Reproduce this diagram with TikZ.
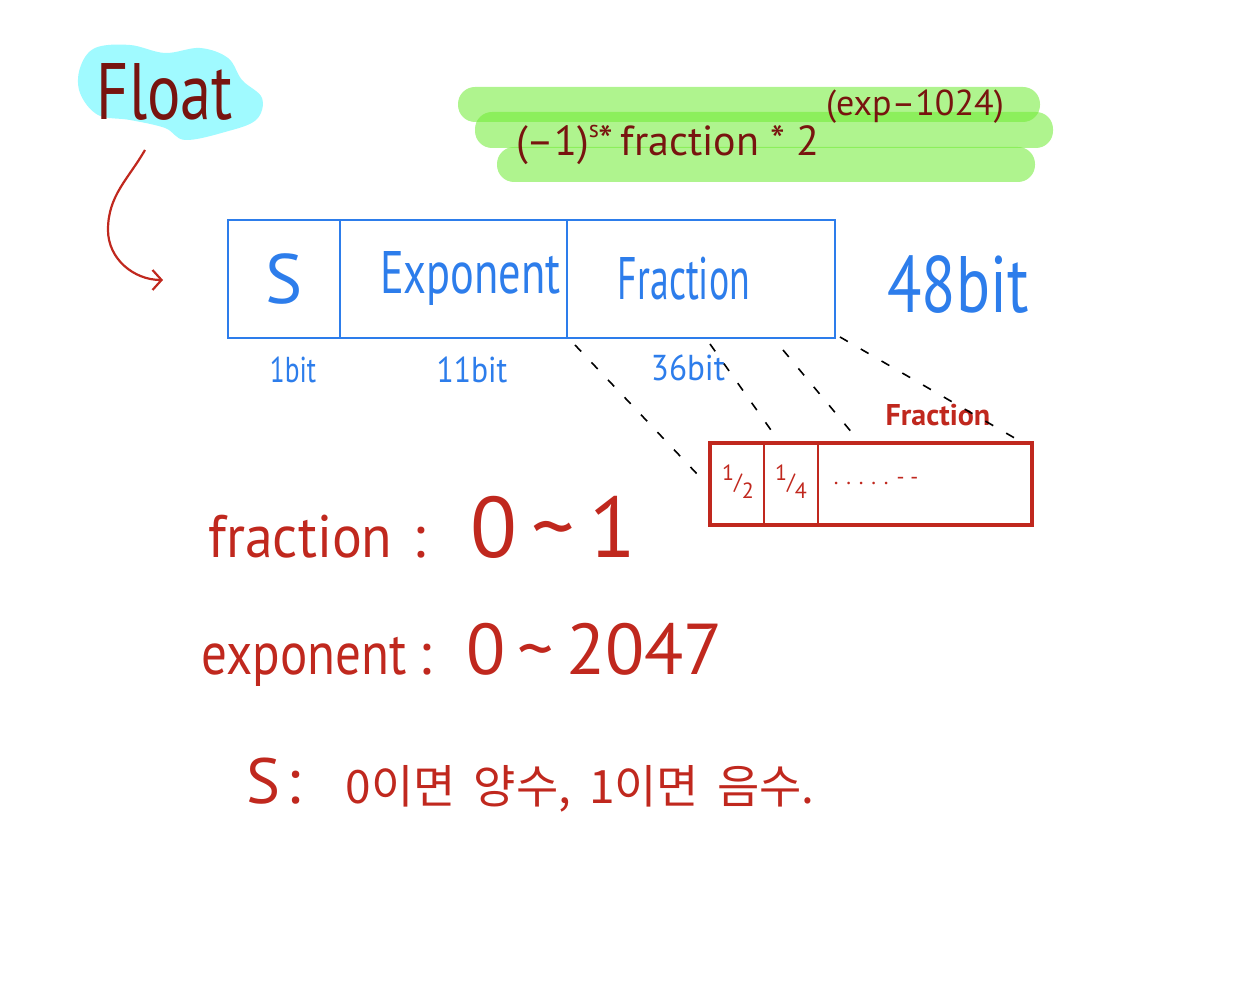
\documentclass[tikz,border=0pt]{standalone}
\usepackage{fontspec}
\setmainfont{PT Sans}
\newfontfamily\kofont{Noto Sans CJK KR}
\usetikzlibrary{arrows.meta,positioning,calc}
\definecolor{inkred}{RGB}{192,40,30}
\definecolor{inkdark}{RGB}{120,20,15}
\definecolor{inkblue}{RGB}{45,125,235}
\definecolor{hlgreen}{RGB}{110,235,50}
\definecolor{hlcyan}{RGB}{160,250,255}
\newcommand{\fs}[1]{\fontsize{#1}{#1}\selectfont}
\newcommand{\sq}[2]{\scalebox{#1}[1]{#2}}
\tikzset{
  hl/.style={fill=hlgreen, fill opacity=0.55, rounded corners=17pt},
  bitcell/.style={draw=inkblue, line width=2.5pt, minimum height=118pt, inner sep=0pt, outer sep=0pt, text=inkblue, font=\fs{60}},
  bitlabel/.style={text=inkblue, font=\fs{36}},
  link/.style={draw=black, line width=1.6pt, dash pattern=on 9pt off 15pt},
  fracbox/.style={draw=inkred, line width=4.5pt, minimum width=322pt, minimum height=82pt, inner sep=0pt, outer sep=0pt},
  fracdiv/.style={draw=inkred, line width=1.6pt},
  redtext/.style={text=inkred, anchor=west},
  arrowink/.style={draw=inkred, line width=2.2pt, -{Straight Barb[length=9pt,width=20pt]}}
}
\begin{document}
\begin{tikzpicture}[x=1pt,y=1pt]
  \useasboundingbox (0,0) rectangle (1260,1000);
  \fill[hlcyan] plot[smooth cycle, tension=0.6] coordinates {(80,932) (95,952) (130,955) (165,947) (200,952) (228,942) (242,920) (262,902) (256,880) (225,868) (185,860) (165,872) (130,880) (98,885) (80,907)};
  \node[text=inkdark, font=\fs{80}] (float) at (165,908) {\sq{0.78}{Float}};
  \fill[hl] (458,913) rectangle (1040,878);
  \fill[hl] (475,888) rectangle (1053,852);
  \fill[hl] (497,853) rectangle (1035,818);
  \node[text=inkdark, font=\fs{42}, anchor=west, inner sep=0pt] (formula) at (516,855) {(–1)\raisebox{18pt}{\fs{24}s}*\,fraction * 2};
  \node[text=inkdark, font=\fs{36}, anchor=west, inner sep=0pt] (formulaexp) at (826,893) {(exp–1024)};
  \draw[arrowink] (145,850) to[out=-120,in=90] (108,770) to[out=-90,in=180] (163,720);
  \node[bitcell, minimum width=112pt] (sbit) at (284,721) {\fs{70}S};
  \node[bitcell, minimum width=227pt, right=0pt of sbit] (expbit) {\hspace{34pt}\sq{0.74}{Exponent}};
  \node[bitcell, minimum width=268pt, right=0pt of expbit] (fracbit) {\sq{0.63}{Fraction}\hspace{34pt}\null};
  \node[text=inkblue, font=\fs{80}] (size) at (958,715) {\sq{0.79}{48bit}};
  \node[bitlabel] (sbitlbl) at (293,630) {\sq{0.76}{1bit}};
  \node[bitlabel] (expbitlbl) at (472,630) {\sq{0.88}{11bit}};
  \node[bitlabel] (fracbitlbl) at (688,632) {\sq{0.92}{36bit}};
  \node[fracbox] (fracbox) at (871,516) {};
  \node[text=inkred, font=\bfseries\fs{30}] (fracname) at (938,585) {Fraction};
  \draw[fracdiv] ($(fracbox.north west)+(54,0)$) -- ($(fracbox.south west)+(54,0)$);
  \draw[fracdiv] ($(fracbox.north west)+(108,0)$) -- ($(fracbox.south west)+(108,0)$);
  \node[text=inkred, font=\fs{22}] (half) at (738,518) {\raisebox{9pt}{1}/\raisebox{-9pt}{2}};
  \node[text=inkred, font=\fs{22}] (quarter) at (791,518) {\raisebox{9pt}{1}/\raisebox{-9pt}{4}};
  \node[text=inkred, font=\fs{22}] (rest) at (876,519) {. . . . . - -};
  \draw[link] ($(fracbit.south west)+(8,-7)$) -- ($(fracbox.north west)+(-12,-32)$);
  \draw[link] ($(fracbit.south west)+(143,-6)$) -- ($(fracbox.north west)+(68,3)$);
  \draw[link] ($(fracbit.south west)+(216,-12)$) -- ($(fracbox.north west)+(148,3)$);
  \draw[link] ($(fracbit.south east)+(5,1)$) -- ($(fracbox.north east)+(-14,3)$);
  \node[redtext, font=\fs{60}] (fracrange) at (205,473) {\sq{0.93}{fraction}\hspace{20pt}:\hspace{45pt}{\fs{86}0\,\textasciitilde\,1}};
  \node[redtext, font=\fs{60}] (exprange) at (198,345) {\sq{0.85}{exponent}\hspace{12pt}:\hspace{35pt}{\fs{72}0\,\textasciitilde\,2047}};
  \node[redtext, font=\fs{64}] (signnote) at (243,215) {S\hspace{6pt}:\hspace{45pt}{\kofont\fs{46}0이면\hspace{18pt}양수,\hspace{18pt}1이면\hspace{18pt}음수.}};
\end{tikzpicture}
\end{document}
